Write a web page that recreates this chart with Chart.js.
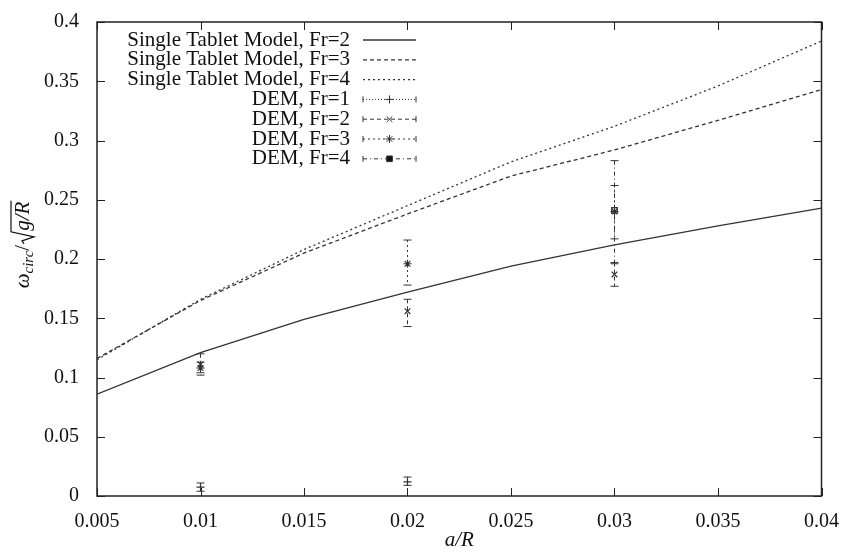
<!DOCTYPE html>
<html>
<head>
<meta charset="utf-8">
<script src="https://cdn.jsdelivr.net/npm/chart.js@4.4.0/dist/chart.umd.min.js"></script>
<style>
  html, body { margin: 0; background: #fff; }
</style>
</head>
<body>
<canvas id="chart" width="845" height="556"></canvas>
<script>
// model curves (single tablet model)
const xModel = [0.005, 0.01, 0.015, 0.02, 0.025, 0.03, 0.035, 0.04];
const modelFr2 = [0.086, 0.121, 0.149, 0.172, 0.194, 0.212, 0.228, 0.243];
const modelFr3 = [0.116, 0.165, 0.205, 0.238, 0.270, 0.292, 0.317, 0.343];
const modelFr4 = [0.115, 0.166, 0.208, 0.245, 0.282, 0.312, 0.346, 0.384];

// DEM results with error bars
const xDem = [0.01, 0.02, 0.03];
const demFr1 = [0.0075, 0.012, null];
const demFr1Lo = [0.004, 0.009, null];
const demFr1Hi = [0.011, 0.016, null];
const demFr2 = [0.111, 0.156, 0.187];
const demFr2Lo = [0.102, 0.143, 0.177];
const demFr2Hi = [0.120, 0.166, 0.197];
const demFr3 = [0.108, 0.196, 0.240];
const demFr3Lo = [0.104, 0.178, 0.217];
const demFr3Hi = [0.113, 0.216, 0.262];
const demFr4 = [null, null, 0.241];
const demFr4Lo = [null, null, 0.196];
const demFr4Hi = [null, null, 0.283];

const xTicks = [0.005, 0.01, 0.015, 0.02, 0.025, 0.03, 0.035, 0.04];
const xTickLabels = ['0.005', '0.01', '0.015', '0.02', '0.025', '0.03', '0.035', '0.04'];
const yTicks = [0, 0.05, 0.1, 0.15, 0.2, 0.25, 0.3, 0.35, 0.4];
const yTickLabels = ['0', '0.05', '0.1', '0.15', '0.2', '0.25', '0.3', '0.35', '0.4'];

const legendLabels = [
  'Single Tablet Model, Fr=2',
  'Single Tablet Model, Fr=3',
  'Single Tablet Model, Fr=4',
  'DEM, Fr=1',
  'DEM, Fr=2',
  'DEM, Fr=3',
  'DEM, Fr=4'
];

const FONT = '"Liberation Serif", "DejaVu Serif", serif';
const INK = '#333';

function pts(xs, ys) {
  return xs.map((x, i) => ({ x, y: ys[i] })).filter(p => p.y !== null);
}

function modelSet(label, ys, dash) {
  return {
    label, data: pts(xModel, ys), showLine: true, borderColor: INK,
    borderWidth: 1.3, borderDash: dash, pointRadius: 0, tension: 0
  };
}

function demSet(label, ys, lo, hi, style, dash) {
  return {
    label, data: pts(xDem, ys), showLine: false, borderColor: INK,
    backgroundColor: 'rgba(0,0,0,0)', pointStyle: style, pointRadius: 4,
    pointBorderWidth: 1.2, errLo: lo, errHi: hi, errDash: dash
  };
}

const datasets = [
  modelSet(legendLabels[0], modelFr2, []),
  modelSet(legendLabels[1], modelFr3, [4, 3]),
  modelSet(legendLabels[2], modelFr4, [2, 3]),
  demSet(legendLabels[3], demFr1, demFr1Lo, demFr1Hi, 'cross', [1, 2]),
  demSet(legendLabels[4], demFr2, demFr2Lo, demFr2Hi, 'crossRot', [4, 3]),
  demSet(legendLabels[5], demFr3, demFr3Lo, demFr3Hi, 'star', [2, 3]),
  demSet(legendLabels[6], demFr4, demFr4Lo, demFr4Hi, 'rect', [4, 3, 1, 3])
];

// frame, inward ticks, error bars, legend, axis titles
const decor = {
  id: 'decor',
  beforeDatasetsDraw(chart) {
    const { ctx, chartArea: a, scales: { x, y } } = chart;
    ctx.save();
    ctx.strokeStyle = '#222';
    ctx.lineWidth = 1.5;
    ctx.strokeRect(a.left, a.top, a.right - a.left, a.bottom - a.top);
    ctx.lineWidth = 1;
    ctx.beginPath();
    xTicks.forEach(v => {
      const px = Math.round(x.getPixelForValue(v)) + 0.5;
      ctx.moveTo(px, a.bottom); ctx.lineTo(px, a.bottom - 8);
      ctx.moveTo(px, a.top); ctx.lineTo(px, a.top + 8);
    });
    yTicks.forEach(v => {
      const py = Math.round(y.getPixelForValue(v)) + 0.5;
      ctx.moveTo(a.left, py); ctx.lineTo(a.left + 8, py);
      ctx.moveTo(a.right, py); ctx.lineTo(a.right - 8, py);
    });
    ctx.stroke();

    // error bars
    chart.data.datasets.forEach(ds => {
      if (!ds.errLo) return;
      ctx.strokeStyle = INK;
      ctx.lineWidth = 1;
      xDem.forEach((xv, i) => {
        if (ds.errLo[i] === null) return;
        const px = x.getPixelForValue(xv);
        const top = y.getPixelForValue(ds.errHi[i]);
        const bot = y.getPixelForValue(ds.errLo[i]);
        ctx.setLineDash(ds.errDash);
        ctx.beginPath();
        ctx.moveTo(px, top); ctx.lineTo(px, bot);
        ctx.stroke();
        ctx.setLineDash([]);
        ctx.beginPath();
        ctx.moveTo(px - 4, top); ctx.lineTo(px + 4, top);
        ctx.moveTo(px - 4, bot); ctx.lineTo(px + 4, bot);
        ctx.stroke();
      });
    });
    ctx.restore();
  },
  afterDraw(chart) {
    const { ctx, chartArea: a } = chart;
    ctx.save();
    ctx.fillStyle = '#111';

    // legend
    const textRight = 350, x0 = 363, x1 = 416;
    chart.data.datasets.forEach((ds, i) => {
      const cy = 40 + i * 19.8;
      ctx.font = '21px ' + FONT;
      ctx.textAlign = 'right';
      ctx.textBaseline = 'middle';
      ctx.fillText(ds.label, textRight, cy);
      ctx.strokeStyle = INK;
      ctx.lineWidth = ds.errLo ? 1 : 1.3;
      ctx.setLineDash(ds.errLo ? ds.errDash : ds.borderDash);
      ctx.beginPath();
      ctx.moveTo(x0, cy); ctx.lineTo(x1, cy);
      ctx.stroke();
      ctx.setLineDash([]);
      if (ds.errLo) {
        ctx.beginPath();
        ctx.moveTo(x0, cy - 3); ctx.lineTo(x0, cy + 3);
        ctx.moveTo(x1, cy - 3); ctx.lineTo(x1, cy + 3);
        ctx.stroke();
        Chart.helpers.drawPoint(ctx, { pointStyle: ds.pointStyle, radius: 4, rotation: 0, borderWidth: 1.2 }, (x0 + x1) / 2, cy);
      }
    });

    // x title
    ctx.textAlign = 'center';
    ctx.textBaseline = 'alphabetic';
    ctx.font = 'italic 21px ' + FONT;
    ctx.fillText('a/R', (a.left + a.right) / 2, 546);

    // y title: ω_circ / sqrt(g/R)
    ctx.translate(29, 245);
    ctx.rotate(-Math.PI / 2);
    ctx.textAlign = 'left';
    const big = 'italic 21px ' + FONT, small = 'italic 15px ' + FONT, up = '21px ' + FONT;
    ctx.font = big; const wOm = ctx.measureText('ω').width;
    ctx.font = small; const wSub = ctx.measureText('circ').width;
    ctx.font = up; const wSl = ctx.measureText('/').width;
    ctx.font = big; const wRad = ctx.measureText('g/R').width;
    const total = wOm + wSub + wSl + 14 + wRad;
    let cx = -total / 2;
    ctx.font = big; ctx.fillText('ω', cx, 0); cx += wOm;
    ctx.font = small; ctx.fillText('circ', cx, 4); cx += wSub;
    ctx.font = up; ctx.fillText('/', cx, 0); cx += wSl + 1;
    ctx.strokeStyle = '#111';
    ctx.lineWidth = 1.2;
    ctx.beginPath();
    ctx.moveTo(cx, -5); ctx.lineTo(cx + 3, -7);
    ctx.lineTo(cx + 7, 5); ctx.lineTo(cx + 12, -18);
    ctx.lineTo(cx + 13 + wRad + 1, -18);
    ctx.stroke();
    cx += 13;
    ctx.font = big; ctx.fillText('g/R', cx, 0);
    ctx.restore();
  }
};

new Chart(document.getElementById('chart'), {
  type: 'scatter',
  data: { datasets },
  options: {
    responsive: false,
    animation: false,
    layout: { padding: { top: 18, right: 20, left: 0, bottom: 0 } },
    plugins: { legend: { display: false }, tooltip: { enabled: false } },
    scales: {
      x: {
        type: 'linear', min: 0.005, max: 0.04,
        grid: { display: false },
        border: { display: false },
        afterBuildTicks: s => { s.ticks = xTicks.map(v => ({ value: v })); },
        afterFit: s => { s.height = 60; },
        ticks: {
          color: '#111', padding: 6, maxRotation: 0,
          font: { family: FONT, size: 20 },
          callback: (v, i) => xTickLabels[i]
        }
      },
      y: {
        type: 'linear', min: 0, max: 0.4,
        grid: { display: false },
        border: { display: false },
        afterBuildTicks: s => { s.ticks = yTicks.map(v => ({ value: v })); },
        afterFit: s => { s.width = 97; },
        ticks: {
          color: '#111', padding: 10,
          font: { family: FONT, size: 20 },
          callback: (v, i) => yTickLabels[i]
        }
      }
    }
  },
  plugins: [decor]
});
</script>
</body>
</html>
